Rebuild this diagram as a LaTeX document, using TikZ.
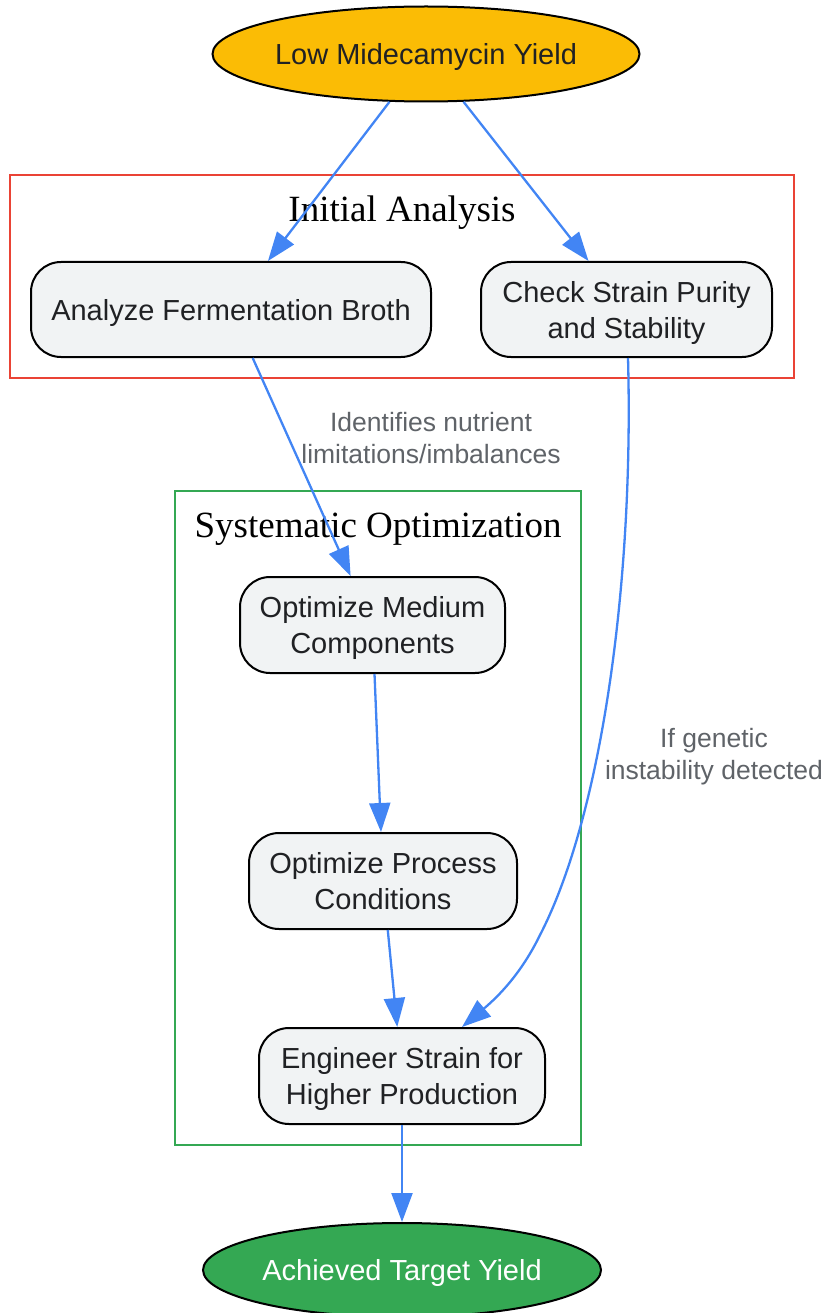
\documentclass[tikz,border=0pt]{standalone}
\usepackage{fontspec}
\setmainfont{Liberation Serif}
\newfontfamily\sansf{Liberation Sans}
\usetikzlibrary{shapes.geometric,arrows.meta}
\definecolor{gyellow}{HTML}{FBBC05}
\definecolor{ggreen}{HTML}{34A853}
\definecolor{gred}{HTML}{EA4335}
\definecolor{gblue}{HTML}{4285F4}
\definecolor{gfill}{HTML}{F1F3F4}
\definecolor{gtext}{HTML}{202124}
\definecolor{ggray}{HTML}{5F6368}
\begin{document}
\begin{tikzpicture}[x=1pt,y=1pt,
  procbox/.style={draw=black, line width=2pt, fill=gfill, rounded corners=30pt,
    align=center, inner sep=0pt, text=gtext, text depth=0pt,
    font=\sansf\fontsize{29}{36}\selectfont},
  termnode/.style={ellipse, draw=black, line width=2pt, inner sep=0pt, text depth=0pt,
    font=\sansf\fontsize{29}{36}\selectfont},
  clusterbox/.style={line width=2pt},
  clustertitle/.style={font=\fontsize{37}{44}\selectfont, text=black, text depth=0pt},
  edge/.style={draw=gblue, line width=2.3pt, -{Triangle[length=29pt,width=21pt]}},
  elabel/.style={text=ggray, align=center, font=\sansf\fontsize{26.5}{32}\selectfont}
]
\useasboundingbox (0,0) rectangle (825,-1313);

% clusters
\draw[clusterbox, draw=gred] (10,-175) rectangle (794,-378);
\node[clustertitle] (t1) at (402,-209) {Initial Analysis};
\draw[clusterbox, draw=ggreen] (175,-491) rectangle (581,-1145);
\node[clustertitle] (t2) at (378,-525) {Systematic Optimization};

% nodes
\node[termnode, fill=gyellow, text=gtext, minimum width=426pt, minimum height=95pt] (low) at (426,-54) {Low Midecamycin Yield};
\node[procbox, minimum width=400pt, minimum height=95pt] (ana) at (231,-309.5) {Analyze Fermentation Broth};
\node[procbox, minimum width=291pt, minimum height=95pt] (chk) at (626.5,-309.5) {Check Strain Purity\\and Stability};
\node[procbox, minimum width=265pt, minimum height=96pt] (med) at (372.5,-625) {Optimize Medium\\Components};
\node[procbox, minimum width=268pt, minimum height=96pt] (proc) at (383,-881) {Optimize Process\\Conditions};
\node[procbox, minimum width=286pt, minimum height=96pt] (eng) at (402,-1076) {Engineer Strain for\\Higher Production};
\node[termnode, fill=ggreen, text=white, minimum width=398pt, minimum height=94pt] (ach) at (402,-1270) {Achieved Target Yield};

% edges
\draw[edge] (low) -- (ana);
\draw[edge] (low) -- (chk);
\draw[edge] (ana) -- (med);
\draw[edge] (med) -- (proc);
\draw[edge] (proc) -- (eng);
\draw[edge] (eng) -- (ach);
\coordinate (engin) at ([xshift=60pt]eng.north);
\coordinate (chkout) at ([xshift=1.5pt]chk.south);
\draw[edge] (chkout) .. controls (634,-580) and (602,-815) .. (540,-935)
  .. controls (522,-972) and (500,-995) .. (engin);

% edge labels
\node[elabel] (l1) at (431,-438) {Identifies nutrient\\limitations/imbalances};
\node[elabel] (l2) at (714,-757) {If genetic\\instability detected};
\end{tikzpicture}
\end{document}
